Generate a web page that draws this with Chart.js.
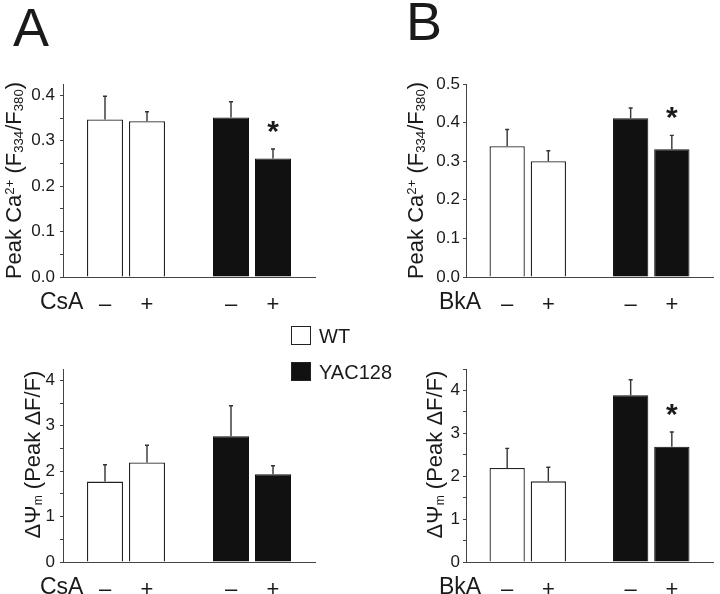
<!DOCTYPE html>
<html>
<head>
<meta charset="utf-8">
<script src="https://cdn.jsdelivr.net/npm/chart.js@4/dist/chart.umd.min.js"></script>
<style>
  body { margin: 0; background: #fff; width: 720px; height: 594px; position: relative; overflow: hidden;
         font-family: "Liberation Sans", Arial, sans-serif; color: #1a1a1a; }
  .panel { position: absolute; font-size: 54px; line-height: 54px; }
  .holder { position: absolute; }
  #legend { position: absolute; left: 291px; top: 326px; font-size: 20px; }
  .row { height: 36px; display: flex; align-items: flex-start; }
  .sw { width: 18px; height: 17px; border: 1.5px solid #222; margin-right: 8px; }
  .lbl { line-height: 20px; }
</style>
</head>
<body>
<div class="panel" style="left:13px;top:0px">A</div>
<div class="panel" style="left:406px;top:-6px">B</div>
<div class="holder" style="left:0;top:0"><canvas id="aTop" width="360" height="320"></canvas></div>
<div class="holder" style="left:360px;top:0"><canvas id="bTop" width="360" height="320"></canvas></div>
<div class="holder" style="left:0;top:320px"><canvas id="aBot" width="360" height="274"></canvas></div>
<div class="holder" style="left:360px;top:320px"><canvas id="bBot" width="360" height="274"></canvas></div>
<div id="legend"></div>

<script>
// groups and treatment tick labels
var groups = ["WT", "YAC128"];
var groupColors = ["#ffffff", "#111111"];
var treatments = ["\u2013", "+"];

// A, peak Ca2+ with CsA (mean, SEM)
var caCsaWT = [0.347, 0.343];
var caCsaWTErr = [0.051, 0.021];
var caCsaYAC = [0.351, 0.261];
var caCsaYACErr = [0.035, 0.021];
var caCsaSig = [false, true];

// B, peak Ca2+ with BkA
var caBkaWT = [0.339, 0.300];
var caBkaWTErr = [0.043, 0.027];
var caBkaYAC = [0.411, 0.331];
var caBkaYACErr = [0.027, 0.036];
var caBkaSig = [false, true];

// A, delta psi with CsA
var psiCsaWT = [1.77, 2.19];
var psiCsaWTErr = [0.37, 0.38];
var psiCsaYAC = [2.77, 1.93];
var psiCsaYACErr = [0.67, 0.19];
var psiCsaSig = [false, false];

// B, delta psi with BkA
var psiBkaWT = [2.19, 1.88];
var psiBkaWTErr = [0.46, 0.33];
var psiBkaYAC = [3.89, 2.69];
var psiBkaYACErr = [0.36, 0.34];
var psiBkaSig = [false, true];

var FONT = "'Liberation Sans', Arial, sans-serif";
var axisColor = "#444";
var textColor = "#1a1a1a";

// slot layout: blank, WT-, WT+, blank, YAC-, YAC+, blank
var xLabels = [""].concat(treatments, [""], treatments, [""]);
function place(vals, start) {
  var out = xLabels.map(function () { return null; });
  vals.forEach(function (v, k) { out[start + k] = v; });
  return out;
}

var caTitle = [["Peak Ca", 1, 0], ["2+", 0.6, -0.33], [" (F", 1, 0], ["334", 0.6, 0.1],
               ["/F", 1, 0], ["380", 0.6, 0.1], [")", 1, 0]];
var psiTitle = [["\u0394\u03A8", 1, 0], ["m", 0.55, 0.1], [" (Peak \u0394F/F)", 1, 0]];

var extras = {
  id: "extras",
  afterDatasetsDraw: function (chart) {
    var ctx = chart.ctx, y = chart.scales.y;
    ctx.save();
    ctx.strokeStyle = "#333";
    ctx.lineWidth = 1.4;
    chart.data.datasets.forEach(function (ds, i) {
      var meta = chart.getDatasetMeta(i);
      meta.data.forEach(function (bar, j) {
        var v = ds.data[j];
        if (v == null) return;
        var y0 = y.getPixelForValue(v);
        var y1 = y.getPixelForValue(v + ds.err[j]);
        ctx.beginPath();
        ctx.moveTo(bar.x, y0);
        ctx.lineTo(bar.x, y1);
        ctx.moveTo(bar.x - 2, y1);
        ctx.lineTo(bar.x + 2, y1);
        ctx.stroke();
        if (ds.sig && ds.sig[j]) {
          ctx.fillStyle = textColor;
          ctx.font = "bold 30px " + FONT;
          ctx.textAlign = "center";
          ctx.textBaseline = "alphabetic";
          ctx.fillText("*", bar.x, y1 - 8);
        }
      });
    });
    ctx.restore();
  },
  afterDraw: function (chart) {
    var o = chart.options.plugins.extras;
    var ctx = chart.ctx, area = chart.chartArea;
    ctx.save();
    ctx.fillStyle = textColor;
    // treatment name under the axis
    ctx.font = "23px " + FONT;
    ctx.textAlign = "left";
    ctx.textBaseline = "alphabetic";
    ctx.fillText(o.drug, area.left + o.drugX, area.bottom + 32);
    // rotated y title with sub/superscripts
    var base = 22, total = 0;
    o.title.forEach(function (r) {
      ctx.font = (base * r[1]) + "px " + FONT;
      total += ctx.measureText(r[0]).width;
    });
    ctx.translate(area.left + o.titleX, (area.top + area.bottom) / 2 + o.titleDy);
    ctx.rotate(-Math.PI / 2);
    var x = -total / 2;
    o.title.forEach(function (r) {
      ctx.font = (base * r[1]) + "px " + FONT;
      ctx.fillText(r[0], x, r[2] * base);
      x += ctx.measureText(r[0]).width;
    });
    ctx.restore();
  }
};

function makeChart(id, p) {
  var sets = [
    { label: groups[0], data: place(p.wt, 1), err: place(p.wtErr, 1), sig: null,
      backgroundColor: groupColors[0], borderColor: "#222", borderWidth: 1.3 },
    { label: groups[1], data: place(p.yac, 4), err: place(p.yacErr, 4), sig: place(p.sig, 4),
      backgroundColor: groupColors[1], borderColor: "#111", borderWidth: 1 }
  ];
  var h = document.getElementById(id).height;
  return new Chart(document.getElementById(id), {
    type: "bar",
    data: { labels: xLabels, datasets: sets },
    options: {
      responsive: false,
      animation: false,
      layout: { padding: { left: 0, top: p.top, right: p.right, bottom: 0 } },
      datasets: { bar: { grouped: false, barPercentage: 0.857, categoryPercentage: 1, borderSkipped: "start" } },
      plugins: {
        legend: { display: false },
        tooltip: { enabled: false },
        extras: { drug: p.drug, drugX: p.drugX, title: p.title, titleX: p.titleX, titleDy: p.titleDy }
      },
      scales: {
        x: {
          type: "category",
          offset: false,
          afterFit: function (s) { s.height = h - p.bottom; },
          grid: { display: false },
          border: { display: true, color: axisColor, width: 1 },
          ticks: { autoSkip: false, maxRotation: 0, padding: 7, color: textColor, font: { family: FONT, size: 22 } }
        },
        y: {
          min: 0,
          max: p.max,
          afterFit: function (s) { s.width = p.left; },
          border: { display: true, color: axisColor, width: 1 },
          grid: { display: true, drawOnChartArea: false, drawTicks: true, tickLength: 3, color: axisColor },
          ticks: {
            stepSize: p.step / 2,
            includeBounds: false,
            padding: p.tickPad,
            color: textColor,
            font: { family: FONT, size: 17, lineHeight: 1 },
            callback: function (v) {
              var k = v / p.step;
              return Math.abs(k - Math.round(k)) < 1e-6 ? v.toFixed(p.dec) : "";
            }
          }
        }
      }
    },
    plugins: [extras]
  });
}

makeChart("aTop", { wt: caCsaWT, wtErr: caCsaWTErr, yac: caCsaYAC, yacErr: caCsaYACErr, sig: caCsaSig,
  max: 0.425, step: 0.1, dec: 1, left: 63, right: 45, top: 84, bottom: 277, tickPad: 5,
  drug: "CsA", drugX: -23, title: caTitle, titleX: -42, titleDy: 0 });
makeChart("bTop", { wt: caBkaWT, wtErr: caBkaWTErr, yac: caBkaYAC, yacErr: caBkaYACErr, sig: caBkaSig,
  max: 0.5, step: 0.1, dec: 1, left: 106, right: 2, top: 84, bottom: 277, tickPad: 3,
  drug: "BkA", drugX: -27, title: caTitle, titleX: -43, titleDy: 0 });
makeChart("aBot", { wt: psiCsaWT, wtErr: psiCsaWTErr, yac: psiCsaYAC, yacErr: psiCsaYACErr, sig: psiCsaSig,
  max: 4.25, step: 1, dec: 0, left: 63, right: 45, top: 49, bottom: 242, tickPad: 5,
  drug: "CsA", drugX: -23, title: psiTitle, titleX: -23, titleDy: -11 });
makeChart("bBot", { wt: psiBkaWT, wtErr: psiBkaWTErr, yac: psiBkaYAC, yacErr: psiBkaYACErr, sig: psiBkaSig,
  max: 4.5, step: 1, dec: 0, left: 106, right: 2, top: 49, bottom: 242, tickPad: 3,
  drug: "BkA", drugX: -27, title: psiTitle, titleX: -24, titleDy: -11 });

// legend
var legend = document.getElementById("legend");
groups.forEach(function (g, i) {
  var row = document.createElement("div");
  row.className = "row";
  row.innerHTML = '<div class="sw" style="background:' + groupColors[i] + '"></div><div class="lbl">' + g + "</div>";
  legend.appendChild(row);
});
</script>
</body>
</html>
